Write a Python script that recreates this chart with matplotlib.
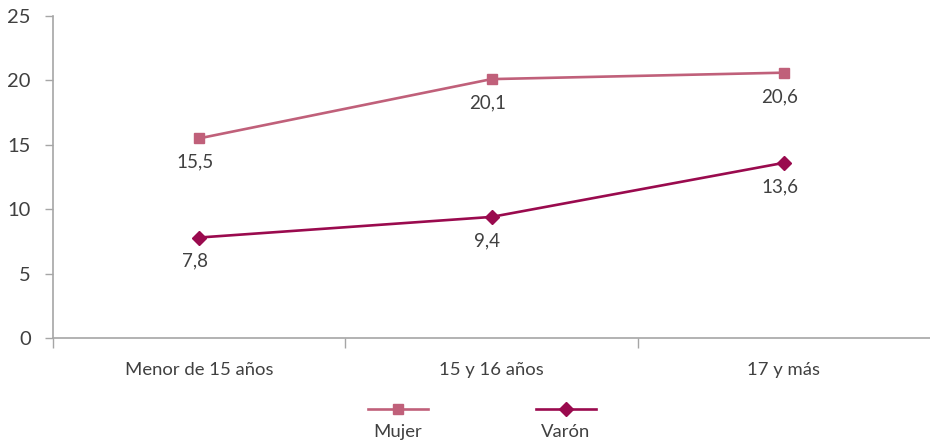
import matplotlib.pyplot as plt
from matplotlib.lines import Line2D

plt.rcParams['font.family'] = ['Lato', 'DejaVu Sans']

# datos
categorias = ["Menor de 15 años", "15 y 16 años", "17 y más"]
mujer = [15.5, 20.1, 20.6]
varon = [7.8, 9.4, 13.6]
series = ["Mujer", "Varón"]

color_mujer = "#C0607A"
color_varon = "#9A0A4E"
gris = "#A6A6A6"
texto = "#404040"

fig = plt.figure(figsize=(9.3, 4.43), dpi=100)
ax = fig.add_axes([53 / 930, 1 - 338 / 443, 877 / 930, (338 - 16) / 443])

x = list(range(len(categorias)))
ax.plot(x, mujer, color=color_mujer, lw=1.9, marker="s", ms=7.5)
ax.plot(x, varon, color=color_varon, lw=1.9, marker="D", ms=7)

# etiquetas de valor debajo de cada punto
for serie in (mujer, varon):
    for xi, v in zip(x, serie):
        ax.annotate(f"{v:.1f}".replace(".", ","), (xi, v), xytext=(-3, -11),
                    textcoords="offset points", ha="center", va="top",
                    fontsize=13.5, color=texto)

ax.set_xlim(-0.5, 2.5)
ax.set_ylim(0, 25)
ax.set_yticks([0, 5, 10, 15, 20, 25])
ax.tick_params(axis="y", length=6, width=1, color=gris, labelsize=14.5,
               labelcolor=texto, pad=10)

# ticks mayores entre categorías, etiquetas en el centro
ax.set_xticks([-0.5, 0.5, 1.5])
ax.set_xticklabels([])
ax.set_xticks(x, minor=True)
ax.set_xticklabels(categorias, minor=True)
ax.tick_params(axis="x", which="major", length=7, width=1, color=gris)
ax.tick_params(axis="x", which="minor", length=0, labelsize=13.3,
               labelcolor=texto, pad=17)

for s in ["top", "right"]:
    ax.spines[s].set_visible(False)
for s in ["left", "bottom"]:
    ax.spines[s].set_color(gris)
    ax.spines[s].set_linewidth(1.2)

# leyenda debajo del gráfico
leyenda = [(398, color_mujer, "s", 7.5), (566, color_varon, "D", 7)]
for (cx, col, mk, ms), nombre in zip(leyenda, series):
    xs = [(cx - 30) / 930, cx / 930, (cx + 30) / 930]
    ys = [1 - 409 / 443] * 3
    fig.add_artist(Line2D(xs, ys, transform=fig.transFigure, color=col,
                          lw=1.9, marker=mk, ms=ms, markevery=[1]))
    fig.text(cx / 930, 1 - 432 / 443, nombre, ha="center", va="center",
             fontsize=13.3, color=texto)

fig.savefig("out.png", dpi=100)
